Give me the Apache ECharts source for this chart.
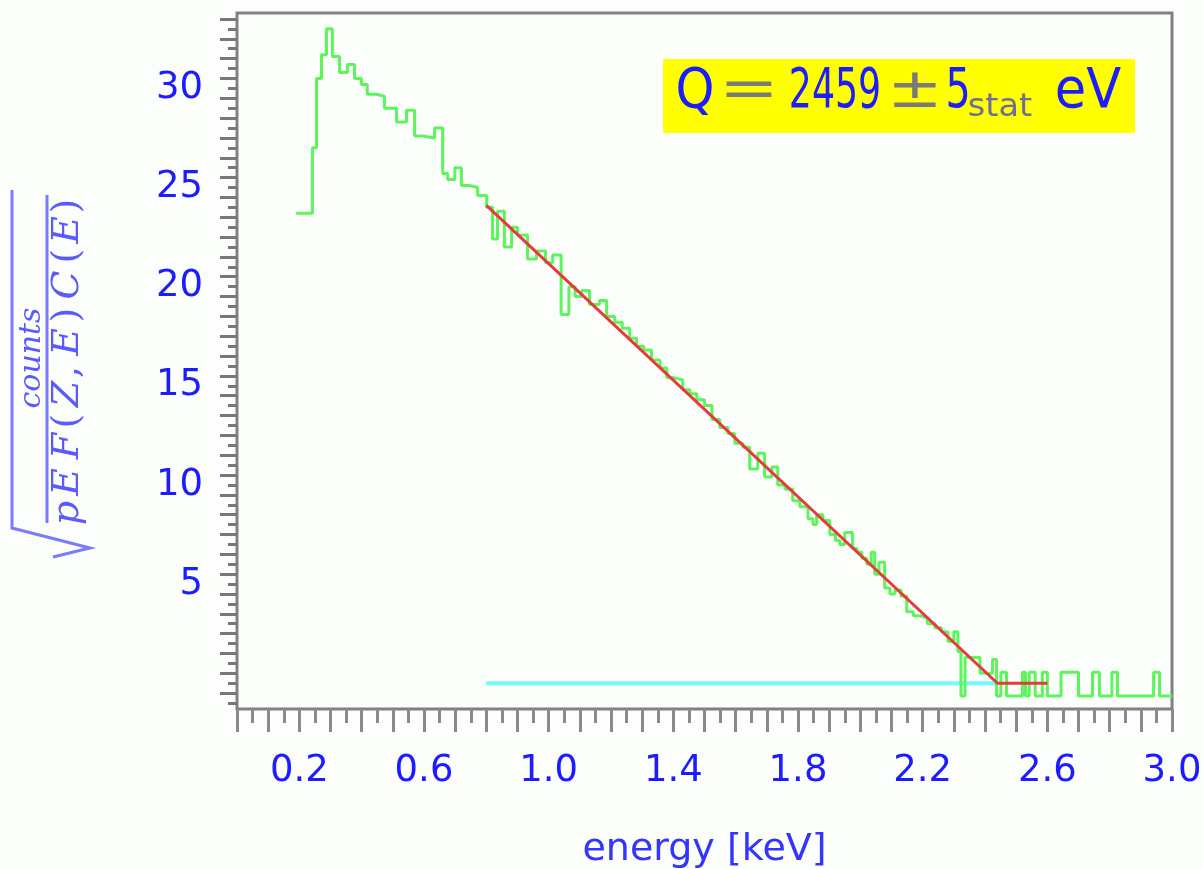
<!DOCTYPE html>
<html><head><meta charset="utf-8">
<script src="https://cdn.jsdelivr.net/npm/echarts@6/dist/echarts.min.js"></script>
<style>html,body{margin:0;padding:0;background:#fcfefc}#c{width:1203px;height:869px}</style>
</head><body><div id="c"></div>
<script>
// ---- data ----
const xTickLabels = [0.2, 0.6, 1.0, 1.4, 1.8, 2.2, 2.6, 3.0];
const yTickLabels = [5, 10, 15, 20, 25, 30];

// measured spectrum (step histogram, value holds from x[i] to x[i+1])
const greenX = [0.19,0.242,0.255,0.271,0.287,0.306,0.329,0.354,0.377,0.399,
  0.418,0.447,0.473,0.512,0.544,0.570,0.595,0.634,0.660,0.676,
  0.699,0.720,0.746,0.772,0.801,0.820,0.836,0.858,0.881,0.900,
  0.932,0.961,0.990,1.013,1.040,1.065,1.085,1.106,1.131,1.163,
  1.186,1.212,1.236,1.260,1.282,1.305,1.330,1.357,1.379,1.404,
  1.430,1.453,1.475,1.500,1.524,1.549,1.575,1.597,1.623,1.645,
  1.671,1.693,1.716,1.735,1.758,1.783,1.806,1.832,1.848,1.860,
  1.880,1.902,1.920,1.934,1.950,1.975,1.989,2.005,2.021,2.035,
  2.046,2.060,2.078,2.095,2.111,2.130,2.149,2.170,2.191,2.215,
  2.239,2.260,2.281,2.300,2.313,2.323,2.336,2.384,2.424,2.437,
  2.451,2.469,2.520,2.530,2.542,2.561,2.584,2.600,2.644,2.700,
  2.745,2.767,2.807,2.825,2.941,2.960,3.0];
const greenY = [23.7,27.0,30.5,31.7,33.0,31.6,30.8,31.2,30.5,30.2,
  29.7,29.6,29.0,28.3,28.9,27.6,27.5,28.0,25.7,25.4,
  26.0,25.1,25.0,24.6,24.0,22.4,23.8,22.0,23.0,22.6,
  21.4,21.8,21.2,21.6,18.6,20.0,19.5,19.8,19.1,19.3,
  18.5,18.2,17.9,17.4,17.0,16.8,16.3,15.9,15.4,15.3,
  14.8,14.6,14.3,14.0,13.3,12.9,12.6,12.1,11.9,10.8,
  11.6,10.4,10.9,10.0,9.8,9.2,8.9,8.3,8.0,8.5,
  8.2,7.5,7.2,7.0,7.6,6.8,6.6,6.3,6.0,6.6,
  5.5,6.1,4.8,4.5,4.7,4.4,3.6,3.4,3.3,3.0,
  2.8,2.6,2.1,2.6,1.6,-0.65,1.3,0.5,1.2,-0.65,
  0.55,-0.65,0.55,-0.65,0.55,-0.65,0.55,-0.65,0.55,-0.65,
  0.55,-0.65,0.55,-0.65,0.55,-0.65,-0.65];

// linear fit
const fitX = [0.80, 2.44, 2.60];
const fitY = [24.1, 0, 0];
// baseline of fit range
const baseX = [0.80, 2.44];
const baseY = [0, 0];

// ---- helpers ----
const zip = (a, b) => a.map((v, i) => [v, b[i]]);
const r2 = v => Math.round(v * 100) / 100;
const xLong = [], xShort = [], yLong = [], yShort = [];
for (let i = 0; i <= 30; i++) xLong.push(r2(i * 0.1));
for (let i = 0; i < 30; i++) xShort.push(r2(i * 0.1 + 0.05));
for (let i = -1; i <= 33; i++) yShort.push(i);
for (let i = -1; i <= 33; i++) yLong.push(i + 0.5);

const BLUE = '#1c1cff';
const GRAY = '#7a7a7a';
const FONT = 'DejaVu Sans';
const XMIN = 0, XMAX = 3, YMIN = -1.3, YMAX = 33.8;

const chart = echarts.init(document.getElementById('c'), null, {renderer: 'canvas'});

const denomChars = [
  ['p', 47], ['E', 78], ['F', 114], ['(', 139], ['Z', 166], [',', 188],
  ['E', 218], [')', 245], ['C', 275], ['(', 304], ['E', 330], [')', 354]
];
const labelColor = '#5a5aff';

const qPieces = [
  {t: 'Q', cx: 695, s: 0.9, c: BLUE, f: 55},
  {t: '=', cx: 749, s: 1.3, c: GRAY, f: 55},
  {t: '2459', cx: 835, s: 0.66, c: BLUE, f: 55},
  {t: '±', cx: 915, s: 1.2, c: GRAY, f: 55},
  {t: '5', cx: 958, s: 0.72, c: BLUE, f: 55},
  {t: 'eV', cx: 1088, s: 0.93, c: BLUE, f: 55}
];

const graphic = [
  {type: 'rect', shape: {x: 663, y: 59, width: 472, height: 74}, style: {fill: '#ffff00'}, z: 10},
  ...qPieces.map(p => ({
    type: 'text', x: p.cx, y: 93, scaleX: p.s, z: 11,
    style: {text: p.t, fill: p.c, font: p.f + 'px "' + FONT + '"', align: 'center', verticalAlign: 'middle',
            textAlign: 'center', textVerticalAlign: 'middle'}
  })),
  {type: 'text', x: 1000, y: 108, scaleX: 1.05, z: 11,
   style: {text: 'stat', fill: '#6e6e96', font: '32px "' + FONT + '"', align: 'center', verticalAlign: 'middle',
           textAlign: 'center', textVerticalAlign: 'middle'}},
  // y-axis formula: sqrt(counts / (pEF(Z,E)C(E)))
  {type: 'polyline', shape: {points: [[53, 557], [90, 548], [12, 528], [12, 190]]},
   style: {stroke: '#7b7bff', lineWidth: 3, fill: 'none'}},
  {type: 'line', shape: {x1: 47, y1: 195, x2: 47, y2: 523}, style: {stroke: '#7b7bff', lineWidth: 3}},
  {type: 'group', x: 0, y: 560, rotation: Math.PI / 2, children: [
    {type: 'text', x: 202, y: 32,
     style: {text: 'counts', fill: labelColor, font: 'italic 30px "DejaVu Serif"', align: 'center', verticalAlign: 'middle',
             textAlign: 'center', textVerticalAlign: 'middle'}},
    ...denomChars.map(d => ({
      type: 'text', x: d[1], y: 68,
      style: {text: d[0], fill: labelColor,
              font: (/[A-Za-z]/.test(d[0]) ? 'italic ' : '') + '38px "DejaVu Serif"',
              align: 'center', verticalAlign: 'middle', textAlign: 'center', textVerticalAlign: 'middle'}
    }))
  ]}
];

const option = {
  animation: false,
  backgroundColor: '#fcfefc',
  grid: {left: 237, right: 31, top: 13, bottom: 160, show: true, borderColor: '#808080', borderWidth: 3,
         backgroundColor: 'transparent', containLabel: false, outerBoundsMode: 'none'},
  xAxis: [
    {type: 'value', min: XMIN, max: XMAX, position: 'bottom',
     axisLine: {show: false, onZero: false}, splitLine: {show: false},
     axisTick: {show: true, customValues: xLong, length: 23, lineStyle: {color: '#8a8a8a', width: 3}},
     axisLabel: {customValues: xTickLabels, formatter: v => v.toFixed(1), margin: 44,
                 color: BLUE, fontSize: 37, fontFamily: FONT},
     name: 'energy [keV]', nameLocation: 'middle', nameGap: 122,
     nameTextStyle: {color: '#3434ff', fontSize: 38, fontFamily: FONT}},
    {type: 'value', min: XMIN, max: XMAX, position: 'bottom',
     axisLine: {show: false, onZero: false}, splitLine: {show: false}, axisLabel: {show: false},
     axisTick: {show: true, customValues: xShort, length: 14, lineStyle: {color: '#8a8a8a', width: 3}}}
  ],
  yAxis: [
    {type: 'value', min: YMIN, max: YMAX, position: 'left',
     axisLine: {show: false, onZero: false}, splitLine: {show: false},
     axisTick: {show: true, customValues: yLong, length: 17, lineStyle: {color: '#777777', width: 3}},
     axisLabel: {customValues: yTickLabels, margin: 34, color: BLUE, fontSize: 37, fontFamily: FONT}},
    {type: 'value', min: YMIN, max: YMAX, position: 'left',
     axisLine: {show: false, onZero: false}, splitLine: {show: false}, axisLabel: {show: false},
     axisTick: {show: true, customValues: yShort, length: 9, lineStyle: {color: '#777777', width: 3}}}
  ],
  series: [
    {type: 'line', name: 'base', data: zip(baseX, baseY), showSymbol: false, symbol: 'none',
     lineStyle: {color: '#6ffcfc', width: 4}, z: 2},
    {type: 'line', name: 'data', data: zip(greenX, greenY), step: 'end', showSymbol: false, symbol: 'none',
     lineStyle: {color: '#5cf55c', width: 3}, z: 3},
    {type: 'line', name: 'fit', data: zip(fitX, fitY), showSymbol: false, symbol: 'none',
     lineStyle: {color: '#e83a3a', width: 3}, z: 4}
  ],
  graphic: graphic
};
chart.setOption(option);
</script>
</body></html>
